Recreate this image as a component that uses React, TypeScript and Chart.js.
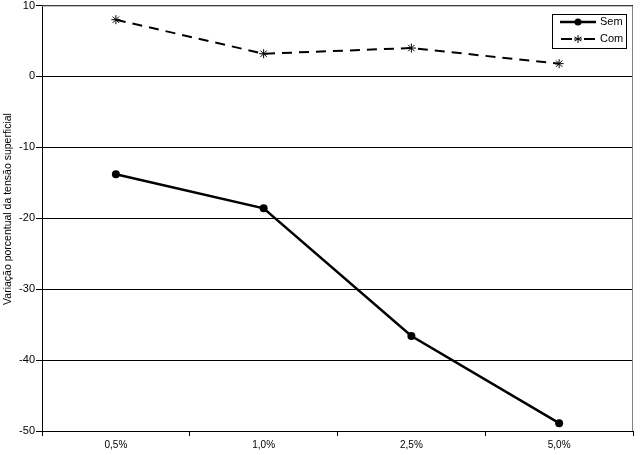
import React, { useEffect, useRef } from "react";
import { Chart, registerables } from "chart.js";

Chart.register(...registerables);

const categories = ["0,5%", "1,0%", "2,5%", "5,0%"];
const semValues = [-13.8, -18.6, -36.6, -48.9];
const comValues = [8.0, 3.2, 4.0, 1.8];
const seriesNames = ["Sem", "Com"];
const yMin = -50;
const yMax = 10;
const yStep = 10;
const yTitle = "Variação porcentual da tensão superficial";

const FONT = "'Liberation Sans', Arial, sans-serif";

const frameAndLegend = {
  id: "frameAndLegend",
  beforeDatasetsDraw(chart: any) {
    const { ctx, chartArea } = chart;
    ctx.save();
    ctx.strokeStyle = "#808080";
    ctx.lineWidth = 1;
    ctx.beginPath();
    ctx.moveTo(chartArea.left, chartArea.top + 0.5);
    ctx.lineTo(chartArea.right - 0.5, chartArea.top + 0.5);
    ctx.lineTo(chartArea.right - 0.5, chartArea.bottom);
    ctx.stroke();
    ctx.restore();
  },
  afterDraw(chart: any) {
    const { ctx } = chart;
    // y axis title
    ctx.save();
    ctx.font = "10.5px " + FONT;
    ctx.fillStyle = "#000";
    ctx.textAlign = "center";
    ctx.textBaseline = "middle";
    ctx.translate(8, 209);
    ctx.rotate(-Math.PI / 2);
    ctx.fillText(yTitle, 0, 0);
    ctx.restore();

    const bx = 552.5, by = 14.5, bw = 74, bh = 34;
    ctx.save();
    ctx.fillStyle = "#fff";
    ctx.fillRect(bx, by, bw, bh);
    ctx.strokeStyle = "#000";
    ctx.lineWidth = 1;
    ctx.strokeRect(bx, by, bw, bh);
    ctx.font = "11px " + FONT;
    ctx.fillStyle = "#000";
    ctx.textBaseline = "middle";
    const rows = [22, 39];
    chart.data.datasets.forEach((ds: any, i: number) => {
      const y = rows[i];
      ctx.strokeStyle = "#000";
      ctx.lineWidth = ds.borderWidth;
      ctx.beginPath();
      if (ds.borderDash) {
        ctx.moveTo(561, y);
        ctx.lineTo(572, y);
        ctx.moveTo(584, y);
        ctx.lineTo(595, y);
      } else {
        ctx.moveTo(560, y);
        ctx.lineTo(596, y);
      }
      ctx.stroke();
      if (ds.pointStyle === "circle") {
        ctx.beginPath();
        ctx.arc(578, y, 3.5, 0, Math.PI * 2);
        ctx.fill();
      } else {
        ctx.lineWidth = 1;
        ctx.beginPath();
        const r = 4;
        for (let k = 0; k < 3; k++) {
          const a = (k * Math.PI) / 3 + Math.PI / 2;
          ctx.moveTo(578 + r * Math.cos(a), y + r * Math.sin(a));
          ctx.lineTo(578 - r * Math.cos(a), y - r * Math.sin(a));
        }
        ctx.moveTo(574, y);
        ctx.lineTo(582, y);
        ctx.stroke();
      }
      ctx.fillText(ds.label, 600, y);
    });
    ctx.restore();
  },
};

export default function App() {
  const ref = useRef<HTMLCanvasElement>(null);
  useEffect(() => {
    document.body.style.margin = "0";
    const chart = new Chart(ref.current!, {
      type: "line",
      data: {
        labels: categories,
        datasets: [
          {
            label: seriesNames[0],
            data: semValues,
            borderColor: "#000",
            backgroundColor: "#000",
            borderWidth: 2.5,
            pointStyle: "circle",
            pointRadius: 4,
            pointBorderWidth: 0,
            tension: 0,
          },
          {
            label: seriesNames[1],
            data: comValues,
            borderColor: "#000",
            backgroundColor: "#000",
            borderWidth: 2,
            borderDash: [10, 7],
            pointStyle: "star",
            pointRadius: 4.5,
            pointBorderWidth: 1,
            tension: 0,
          },
        ],
      },
      options: {
        animation: false,
        responsive: false,
        layout: { padding: { top: 5, right: 7, left: 0, bottom: 0 } },
        plugins: { legend: { display: false }, tooltip: { enabled: false } },
        scales: {
          x: {
            offset: true,
            grid: {
              offset: true,
              drawOnChartArea: false,
              drawTicks: true,
              tickLength: 5,
              color: "#000",
            },
            border: { color: "#000", width: 1 },
            ticks: { color: "#000", font: { family: FONT, size: 10 }, padding: 3 },
            afterFit: (s: any) => {
              s.height = 24;
              s.paddingLeft = 0;
              s.paddingRight = 0;
            },
          },
          y: {
            min: yMin,
            max: yMax,
            ticks: {
              stepSize: yStep,
              color: "#000",
              font: { family: FONT, size: 11 },
              padding: 1,
            },
            grid: { color: "#000", tickLength: 6, lineWidth: 1 },
            border: { color: "#000", width: 1 },
            title: { display: false },
            afterFit: (s: any) => {
              s.width = 42;
              s.paddingTop = 0;
              s.paddingBottom = 0;
            },
          },
        },
      },
      plugins: [frameAndLegend],
    });
    return () => chart.destroy();
  }, []);
  return (
    <div style={{ width: 640, height: 455 }}>
      <canvas ref={ref} width={640} height={455} style={{ display: "block" }} />
    </div>
  );
}
